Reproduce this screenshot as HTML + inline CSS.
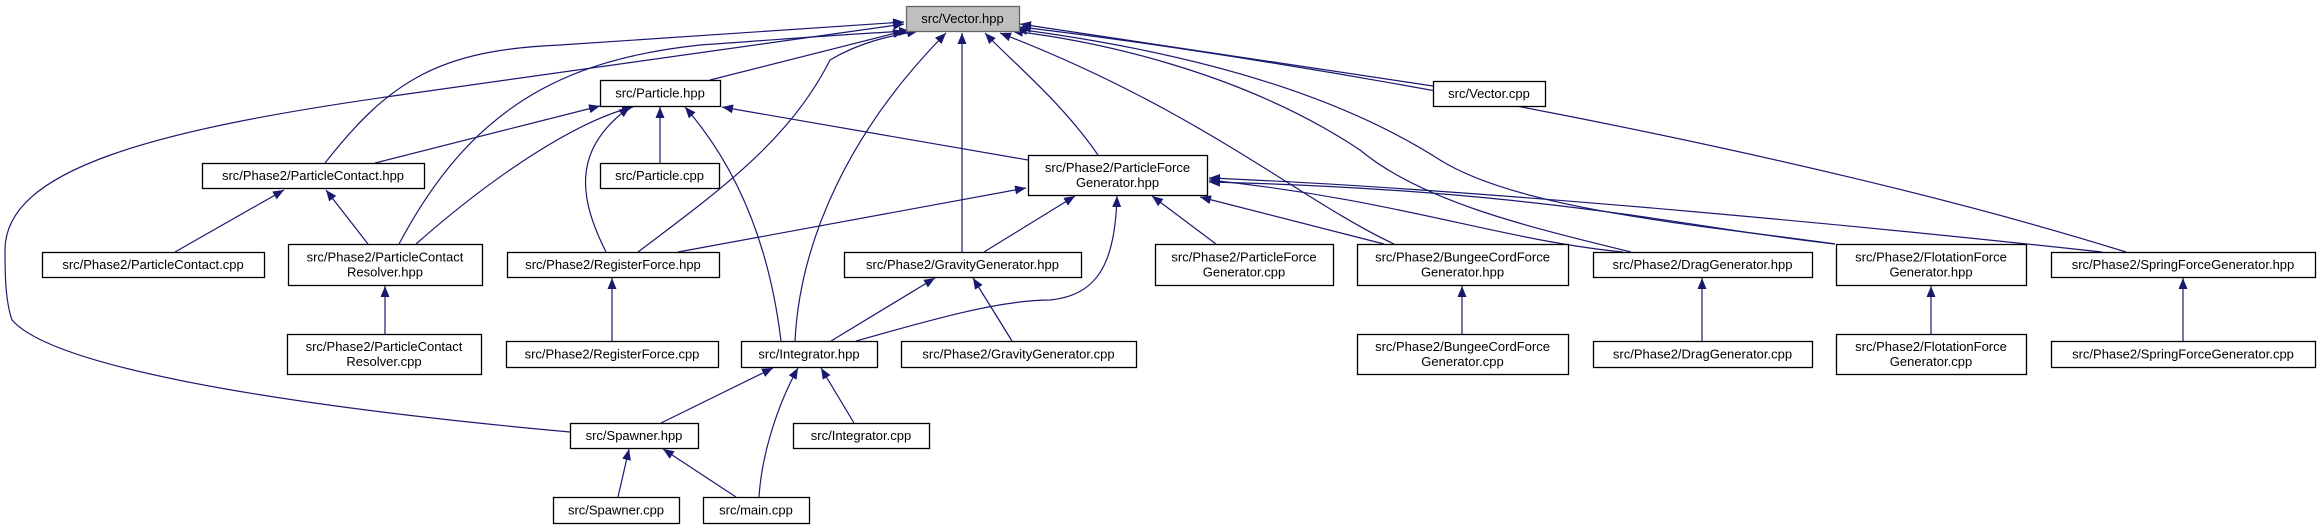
<!DOCTYPE html>
<html><head><meta charset="utf-8"><style>
html,body{margin:0;padding:0;background:#fff;}
svg{display:block;}
text{font-family:"Liberation Sans","DejaVu Sans",sans-serif;font-size:13px;fill:#000;}
</style></head><body>
<svg id="g" width="2317" height="529" viewBox="0 0 2317 529" xmlns="http://www.w3.org/2000/svg">
<defs>
<marker id="ah" markerUnits="userSpaceOnUse" markerWidth="12" markerHeight="10" refX="11" refY="4.5" orient="auto">
<path d="M0,0 L11,4.5 L0,9 Z" fill="#191970"/>
</marker>
</defs>
<g id="edges"></g>
<g id="nodes"></g>
</svg>
<script>
const nodeIds=["vector_hpp","vector_cpp","particle_hpp","particle_cpp","pc_hpp","pc_cpp","pcr_hpp","pcr_cpp","rf_hpp","rf_cpp","pfg_hpp","pfg_cpp","grav_hpp","grav_cpp","bungee_hpp","bungee_cpp","drag_hpp","drag_cpp","flot_hpp","flot_cpp","spring_hpp","spring_cpp","integ_hpp","integ_cpp","spawner_hpp","spawner_cpp","main_cpp"];
const nodeLabels=[["src/Vector.hpp"],["src/Vector.cpp"],["src/Particle.hpp"],["src/Particle.cpp"],["src/Phase2/ParticleContact.hpp"],["src/Phase2/ParticleContact.cpp"],["src/Phase2/ParticleContact","Resolver.hpp"],["src/Phase2/ParticleContact","Resolver.cpp"],["src/Phase2/RegisterForce.hpp"],["src/Phase2/RegisterForce.cpp"],["src/Phase2/ParticleForce","Generator.hpp"],["src/Phase2/ParticleForce","Generator.cpp"],["src/Phase2/GravityGenerator.hpp"],["src/Phase2/GravityGenerator.cpp"],["src/Phase2/BungeeCordForce","Generator.hpp"],["src/Phase2/BungeeCordForce","Generator.cpp"],["src/Phase2/DragGenerator.hpp"],["src/Phase2/DragGenerator.cpp"],["src/Phase2/FlotationForce","Generator.hpp"],["src/Phase2/FlotationForce","Generator.cpp"],["src/Phase2/SpringForceGenerator.hpp"],["src/Phase2/SpringForceGenerator.cpp"],["src/Integrator.hpp"],["src/Integrator.cpp"],["src/Spawner.hpp"],["src/Spawner.cpp"],["src/main.cpp"]];
const nodeBoxes=[[906,6,113,25],[1433,81,112,25],[600,80,120,26],[600,163,119,25],[202,163,222,25],[42,252,222,25],[288,244,194,41],[287,334,194,40],[507,252,212,25],[506,341,212,26],[1028,155,179,40],[1155,244,178,41],[844,252,237,25],[901,341,235,26],[1357,244,211,41],[1357,334,211,40],[1593,252,219,25],[1593,341,219,26],[1836,244,190,41],[1836,334,190,40],[2051,252,264,25],[2051,341,264,26],[741,341,136,26],[793,423,136,25],[570,423,128,25],[553,497,126,26],[703,497,106,26]];
const edgePaths=[
"M710,80 L904,31",
"M325,163 C390,80 440,50 560,45 C700,35 820,28 904,22",
"M399,244 C470,110 560,60 700,45 C800,38 860,33 910,31",
"M570,432 C350,412 60,375 12,320 C5,300 5,270 5,250 C5,170 150,130 400,95 C650,60 820,35 904,24",
"M638,252 C720,190 790,140 830,60 C860,42 890,36 918,31",
"M795,341 C800,240 850,130 946,33",
"M962,252 L962,33",
"M1098,155 C1060,100 1010,60 985,33",
"M1394,244 C1300,200 1200,110 1000,33",
"M1631,252 C1520,225 1420,200 1360,150 C1240,70 1090,40 1012,31",
"M1835,244 C1700,225 1520,210 1440,160 C1300,70 1100,40 1016,29",
"M1433,86 L1020,24",
"M2126,252 C1800,150 1300,60 1020,27",
"M375,163 L600,106",
"M416,244 C500,170 580,120 633,107",
"M606,252 C580,200 570,150 630,107",
"M660,163 L660,107",
"M781,341 C770,250 740,170 685,107",
"M1028,160 L722,107",
"M678,252 L1026,188",
"M175,252 L284,190",
"M368,244 L326,190",
"M385,334 L385,286",
"M612,341 L612,278",
"M984,252 L1075,196",
"M856,341 C930,320 1000,300 1050,300 C1100,295 1115,260 1117,196",
"M1216,244 L1152,196",
"M1384,244 L1200,197",
"M1623,252 C1500,240 1400,200 1209,180",
"M1835,244 C1700,230 1550,190 1209,182",
"M2102,252 C1900,230 1500,190 1209,178",
"M1012,341 L973,278",
"M831,341 L935,278",
"M854,423 L821,368",
"M661,423 L773,368",
"M759,497 C762,450 780,400 798,368",
"M618,497 L629,449",
"M736,497 L663,449",
"M1462,334 L1462,286",
"M1702,341 L1702,278",
"M1931,334 L1931,286",
"M2183,341 L2183,278"
];
const NS="http://www.w3.org/2000/svg";
const eg=document.getElementById('edges');
edgePaths.forEach((d,i)=>{
  const p=document.createElementNS(NS,'path');
  p.setAttribute('d',d);
  p.setAttribute('fill','none');
  p.setAttribute('stroke','#191970');
  p.setAttribute('stroke-width','1.2');
  p.setAttribute('marker-end','url(#ah)');
  
  
  eg.appendChild(p);
});
const ng=document.getElementById('nodes');
nodeIds.forEach((id,i)=>{
  const [x,y,w,h]=nodeBoxes[i];
  const g=document.createElementNS(NS,'g');
  
  
  const r=document.createElementNS(NS,'rect');
  r.setAttribute('x',x+0.5);r.setAttribute('y',y+0.5);
  r.setAttribute('width',w);r.setAttribute('height',h);
  r.setAttribute('fill',i===0?'#bfbfbf':'#fff');
  r.setAttribute('stroke',i===0?'#666':'#000');
  r.setAttribute('stroke-width','1.3');
  g.appendChild(r);
  const lines=nodeLabels[i];
  lines.forEach((t,k)=>{
    const tx=document.createElementNS(NS,'text');
    tx.setAttribute('x',x+w/2);
    const cy=y+h/2+(k-(lines.length-1)/2)*15+4.5;
    tx.setAttribute('y',cy);
    tx.setAttribute('text-anchor','middle');
    
    
    tx.textContent=t;
    g.appendChild(tx);
  });
  ng.appendChild(g);
});
</script>
</body></html>
